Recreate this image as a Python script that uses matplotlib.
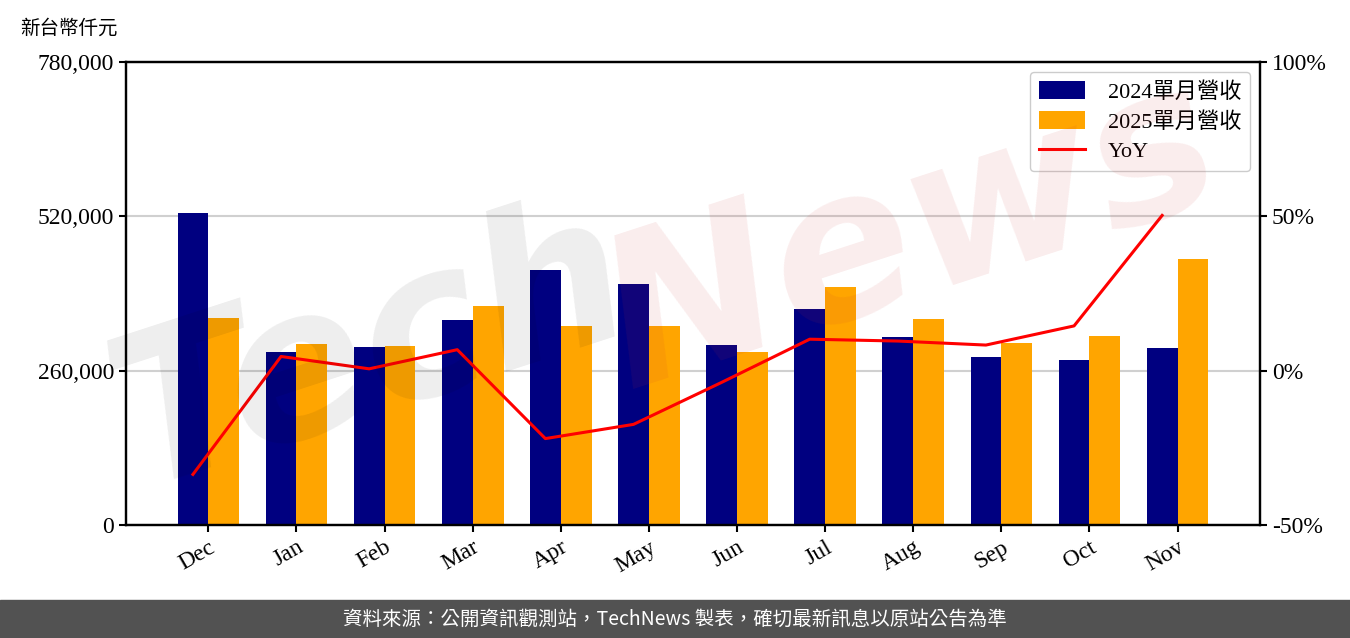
import matplotlib
matplotlib.use("Agg")
import matplotlib.pyplot as plt
from matplotlib.ticker import FuncFormatter
import numpy as np

months = ['Dec', 'Jan', 'Feb', 'Mar', 'Apr', 'May', 'Jun', 'Jul', 'Aug', 'Sep', 'Oct', 'Nov']
rev_2024 = [525600, 291500, 299900, 345400, 429600, 406000, 303200, 363900, 316700, 283000, 278000, 298200]
rev_2025 = [348700, 304900, 301600, 369000, 335300, 335300, 291400, 401000, 347000, 306600, 318400, 448100]
yoy = [-33.6, 4.6, 0.6, 6.8, -22.0, -17.4, -3.8, 10.2, 9.6, 8.3, 14.5, 50.3]

serif = ['Liberation Serif', 'Noto Sans CJK TC']
plt.rcParams['font.family'] = serif

fig = plt.figure(figsize=(13.5, 6.38), dpi=100)
ax = fig.add_axes([0.0933, 0.1771, 0.84, 0.7257])

x = np.arange(len(months))
w = 0.35
b1 = ax.bar(x - w / 2, rev_2024, w, color='#000080', label='2024單月營收', zorder=2)
b2 = ax.bar(x + w / 2, rev_2025, w, color='#FFA500', label='2025單月營收', zorder=2)
ax.set_ylim(0, 780000)
ax.set_yticks([0, 260000, 520000, 780000])
ax.yaxis.set_major_formatter(FuncFormatter(lambda v, p: f'{int(v):,}'))
ax.grid(axis='y', color='#d0d0d0', linewidth=1.5, zorder=0)
ax.set_xticks(x)
ax.set_xticklabels(months, rotation=30, ha='right', rotation_mode='anchor')
ax.tick_params(labelsize=17, width=1.5, length=5)
for s in ax.spines.values():
    s.set_linewidth(1.6)

ax2 = ax.twinx()
ln, = ax2.plot(x - w / 2, np.array(yoy) / 100, color='red', linewidth=2.2, label='YoY', zorder=3)
ax2.set_ylim(-0.5, 1.0)
ax2.set_yticks([-0.5, 0, 0.5, 1.0])
ax2.yaxis.set_major_formatter(FuncFormatter(lambda v, p: f'{v * 100:.0f}%'))
ax2.tick_params(labelsize=17, width=1.5, length=5)
for s in ax2.spines.values():
    s.set_linewidth(1.6)

leg = ax2.legend([b1, b2, ln], ['2024單月營收', '2025單月營收', 'YoY'], loc='upper right',
                 fontsize=16, frameon=True, edgecolor='#cccccc', framealpha=1,
                 handlelength=2.1, handleheight=0.9, borderaxespad=0.45, labelspacing=0.35,
                 handletextpad=1.0)

fig.text(0.015, 0.955, '新台幣仟元', fontsize=14, ha='left', va='center')

# watermark
fig.text(0.275, 0.45, 'Tech', fontsize=150, family='DejaVu Sans', fontweight='bold',
         style='italic', rotation=18, color='black', alpha=0.07, ha='center', va='center')
fig.text(0.675, 0.63, 'News', fontsize=150, family='DejaVu Sans', fontweight='bold',
         style='italic', rotation=18, color='#cc3333', alpha=0.09, ha='center', va='center')

# footer
fig.patches.append(plt.Rectangle((0, 0), 1, 38 / 638, transform=fig.transFigure,
                                 color='#525252', zorder=1))
fig.text(0.5, 19 / 638, '資料來源：公開資訊觀測站，TechNews 製表，確切最新訊息以原站公告為準',
         fontsize=14, color='white', ha='center', va='center', family='Noto Sans CJK TC')

fig.savefig('out.png', dpi=100)
